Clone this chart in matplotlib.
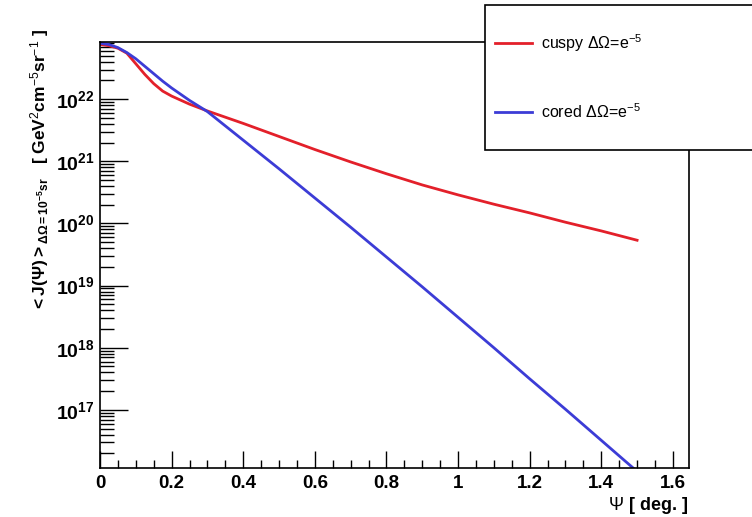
import numpy as np
import matplotlib
matplotlib.use("Agg")
import matplotlib.pyplot as plt
from matplotlib.ticker import FixedLocator, LogLocator, FuncFormatter, MultipleLocator, NullFormatter
from matplotlib.patches import Rectangle
from matplotlib.lines import Line2D

plt.rcParams['font.family'] = ['Liberation Sans', 'DejaVu Sans']
plt.rcParams['mathtext.fontset'] = 'custom'
plt.rcParams['mathtext.rm'] = 'Liberation Sans'
plt.rcParams['mathtext.it'] = 'Liberation Sans:italic'
plt.rcParams['mathtext.bf'] = 'Liberation Sans:bold'

# data (log10 of <J>)
psi_cuspy = [0.0, 0.025, 0.05, 0.075, 0.1, 0.125, 0.15, 0.175, 0.2, 0.25, 0.3, 0.35,
             0.4, 0.5, 0.6, 0.7, 0.8, 0.9, 1.0, 1.1, 1.2, 1.3, 1.4, 1.5]
log_cuspy = [22.88, 22.86, 22.82, 22.74, 22.57, 22.40, 22.25, 22.13, 22.05, 21.92,
             21.81, 21.71, 21.61, 21.40, 21.19, 20.99, 20.80, 20.62, 20.46, 20.31,
             20.17, 20.02, 19.88, 19.73]
psi_cored = [0.0, 0.025, 0.05, 0.075, 0.1, 0.125, 0.15, 0.175, 0.2, 0.25, 0.3, 0.4,
             0.5, 0.6, 0.7, 0.8, 0.9, 1.0, 1.1, 1.2, 1.3, 1.4, 1.5]
log_cored = [22.90, 22.88, 22.83, 22.75, 22.65, 22.53, 22.41, 22.29, 22.18, 21.98,
             21.80, 21.34, 20.88, 20.41, 19.94, 19.46, 18.98, 18.49, 18.00, 17.50,
             17.01, 16.51, 16.01]
labels = ['cuspy $\\Delta\\Omega$=e$^{-5}$', 'cored $\\Delta\\Omega$=e$^{-5}$']
colors = ['#e3202a', '#3c3cd6']

cuspy = 10 ** np.array(log_cuspy)
cored = 10 ** np.array(log_cored)

fig = plt.figure(figsize=(7.52, 5.17), dpi=100)
ax = fig.add_axes([100 / 752, 49 / 517, 589 / 752, 426 / 517])

ax.plot(psi_cuspy, cuspy, color=colors[0], lw=2)
ax.plot(psi_cored, cored, color=colors[1], lw=2)

ax.set_yscale('log')
ax.set_xlim(0, 1.645)
ax.set_ylim(10 ** 16.065, 10 ** 22.92)

ax.xaxis.set_major_locator(MultipleLocator(0.2))
ax.xaxis.set_minor_locator(MultipleLocator(0.05))
ax.xaxis.set_major_formatter(FuncFormatter(lambda v, p: '%g' % round(v, 2)))
ax.yaxis.set_major_locator(FixedLocator([10.0 ** k for k in range(17, 23)]))
ax.yaxis.set_minor_locator(LogLocator(base=10, subs=np.arange(2, 10)))
ax.yaxis.set_minor_formatter(NullFormatter())
ax.yaxis.set_major_formatter(FuncFormatter(
    lambda v, p: r'$\mathbf{10^{%d}}$' % round(np.log10(v))))

ax.tick_params(which='both', direction='in', top=False, right=False)
ax.tick_params(axis='x', which='major', length=12, width=1, labelsize=13.5, pad=5)
ax.tick_params(axis='x', which='minor', length=6, width=1)
ax.tick_params(axis='y', which='major', length=20, width=1, labelsize=14, pad=4)
ax.tick_params(axis='y', which='minor', length=10, width=1)
for lab in ax.get_xticklabels():
    lab.set_fontweight('bold')
for sp in ax.spines.values():
    sp.set_linewidth(1.2)

fig.text(688 / 752, 1 - 506 / 517, r'$\Psi$ [ deg. ]', ha='right', va='center',
         fontsize=13, fontweight='bold')
fig.text(40 / 752, 1 - 170 / 517,
         r'$\mathbf{<J(\Psi)>_{\Delta\Omega=10^{-5}sr}}$   [ GeV$^{2}$cm$^{-5}$sr$^{-1}$ ]',
         rotation=90, ha='center', va='center', fontsize=12.5, fontweight='bold')

# legend box, cut by the right edge like in the original
fig.patches.append(Rectangle((485 / 752, 1 - 150 / 517), 300 / 752, 145 / 517,
                             transform=fig.transFigure, facecolor='white',
                             edgecolor='black', lw=1.2, zorder=5))
for i, (lab, c) in enumerate(zip(labels, colors)):
    yy = 1 - (43 + 69 * i) / 517
    fig.lines.append(Line2D([495 / 752, 532 / 752], [yy, yy], color=c, lw=2,
                            transform=fig.transFigure, zorder=6))
    fig.text(541 / 752, yy, lab, ha='left', va='center', fontsize=11.5, zorder=7)

fig.savefig('out.png', dpi=100)
